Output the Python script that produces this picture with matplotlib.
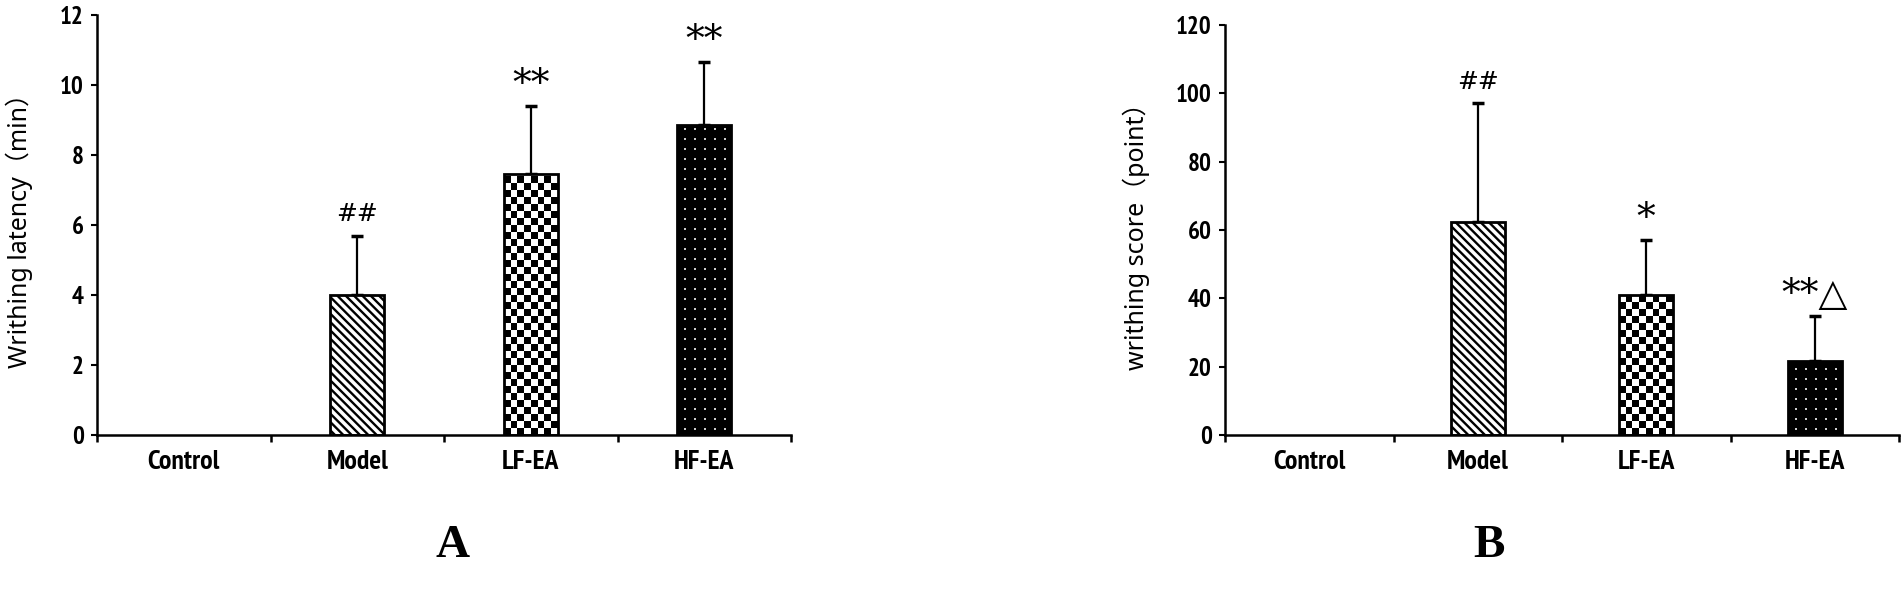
import numpy as np
import matplotlib
matplotlib.use("Agg")
import matplotlib.pyplot as plt

categories = ["Control", "Model", "LF-EA", "HF-EA"]
latency_mean = [0, 4.0, 7.45, 8.85]
latency_sd = [0, 1.7, 1.95, 1.8]
latency_marks = ["", "##", "**", "**"]
score_mean = [0, 62.4, 41.0, 21.7]
score_sd = [0, 34.7, 16.1, 13.2]
score_marks = ["", "##", "*", "**\u25b3"]
latency_ticks = [0, 2, 4, 6, 8, 10, 12]
score_ticks = [0, 20, 40, 60, 80, 100, 120]
panel_labels = ["A", "B"]

W, H = 1904, 597
plt.rcParams["hatch.linewidth"] = 1.7
fig = plt.figure(figsize=(W / 100, H / 100), dpi=100)

tick_font = ["PT Sans Narrow", "Open Sans Condensed", "DejaVu Sans"]
label_font = ["Noto Sans", "Noto Sans CJK SC", "DejaVu Sans"]
mark_font = ["DejaVu Serif", "DejaVu Sans"]


def panel(rect, means, sds, marks, ticks, ylabel, bar_w, label_right_px):
    ax = fig.add_axes(rect)
    x = np.arange(len(categories))
    ymax = ticks[-1]
    ax_w_px = rect[2] * W
    ax_h_px = rect[3] * H
    pxx = ax_w_px / len(categories)
    pxy = ax_h_px / ymax
    edge_lw = 2.0
    for i, (m, s) in enumerate(zip(means, sds)):
        if m <= 0:
            continue
        x0, x1 = x[i] - bar_w / 2, x[i] + bar_w / 2
        if i == 1:
            ax.bar(x[i], m, bar_w, facecolor="white", edgecolor="black",
                   hatch="\\\\\\\\", linewidth=0, zorder=2)
        elif i == 2:
            b = ax.bar(x[i], m, bar_w, facecolor="white", linewidth=0, zorder=2)[0]
            nx = max(1, int(round(bar_w * pxx / 7.0)))
            ny = max(1, int(round(m * pxy / 7.0)))
            arr = (np.add.outer(np.arange(ny), np.arange(nx)) % 2).astype(float)
            im = ax.imshow(arr, extent=(x0, x1, 0, ny * 7.0 / pxy),
                           cmap="gray", interpolation="nearest", aspect="auto",
                           origin="lower", zorder=2.5, vmin=0, vmax=1)
            im.set_clip_path(b)
        else:
            b = ax.bar(x[i], m, bar_w, facecolor="black", linewidth=0, zorder=2)[0]
            wpx = int(round(bar_w * pxx))
            hpx = int(round(m * pxy))
            ii = np.arange(hpx)[:, None]
            jj = np.arange(wpx)[None, :]
            dots = (((ii + 5) % 10) < 2) & (((jj + 3) % 10) < 2)
            arr = np.where(dots, 0.8, 0.0)
            im = ax.imshow(arr, extent=(x0, x1, 0, hpx / pxy), cmap="gray",
                           interpolation="nearest", aspect="auto",
                           origin="lower", zorder=2.5, vmin=0, vmax=1)
            im.set_clip_path(b)
        ax.bar(x[i], m, bar_w, fill=False, edgecolor="black",
               linewidth=edge_lw, zorder=3)
        ax.errorbar(x[i], m, yerr=[[0], [s]], fmt="none", ecolor="black",
                    elinewidth=1.6, capsize=4, capthick=2.5, zorder=1)
        if marks[i]:
            hashy = "#" in marks[i]
            ax.annotate(marks[i], (x[i], m + s), xytext=(0, 7 if hashy else 2),
                        textcoords="offset points", ha="center", va="bottom",
                        fontsize=18 if hashy else 27, family=mark_font, zorder=4)
    ax.set_xlim(-0.5, len(categories) - 0.5)
    ax.set_ylim(0, ymax)
    for sp in ["top", "right"]:
        ax.spines[sp].set_visible(False)
    for sp in ["left", "bottom"]:
        ax.spines[sp].set_linewidth(1.8)
    ax.set_yticks(ticks)
    ax.set_yticklabels([str(t) for t in ticks], family=tick_font, fontsize=18,
                       fontweight="bold")
    ax.tick_params(axis="y", length=4.5, width=1.5, direction="out", pad=5)
    ax.set_xticks(x)
    ax.set_xticklabels(categories, family=tick_font, fontsize=20, fontweight="bold")
    ax.tick_params(axis="x", which="major", length=0, pad=11)
    ax.set_xticks(np.arange(len(categories) + 1) - 0.5, minor=True)
    ax.tick_params(axis="x", which="minor", length=5, width=1.8, direction="out")
    ax.set_ylabel(ylabel, family=label_font, fontsize=18)
    ax.yaxis.set_label_coords((label_right_px - rect[0] * W) / ax_w_px, 0.5)
    return ax


axA = panel([97 / W, 1 - 435 / H, 694 / W, 420 / H], latency_mean, latency_sd,
            latency_marks, latency_ticks, "Writhing latency（min）", 0.31, 33)
axB = panel([1225 / W, 1 - 435 / H, 674 / W, 410 / H], score_mean, score_sd,
            score_marks, score_ticks, "writhing score（point）", 0.32, 1150)

for lab, xc in zip(panel_labels, [453, 1489]):
    fig.text(xc / W, 1 - 546 / H, lab, ha="center", va="center",
             family=["Liberation Serif", "DejaVu Serif"], fontweight="bold", fontsize=34)

fig.savefig("out.png", dpi=100)
